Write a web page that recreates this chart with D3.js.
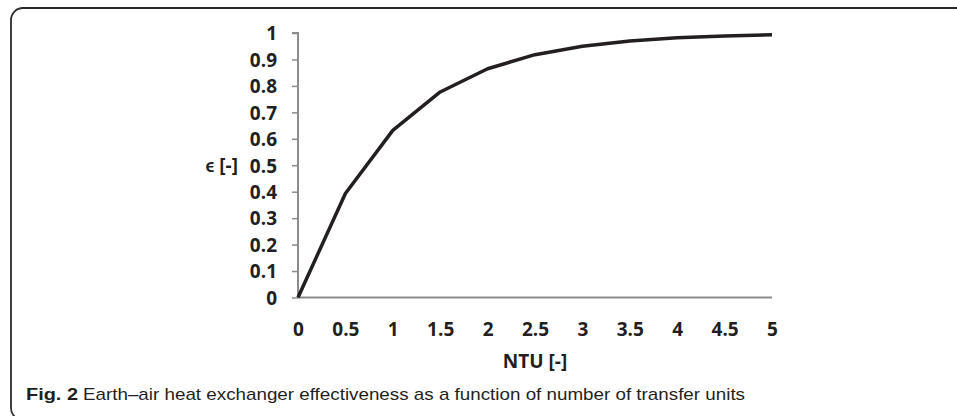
<!DOCTYPE html>
<html lang="en">
<head>
  <meta charset="UTF-8">
  <title>Earth-air heat exchanger effectiveness</title>
  <script src="https://d3js.org/d3.v7.min.js"></script>
  <style>
    body { margin: 0; background: #fff; }
    .tick-label { font-family: "Open Sans", Lato, sans-serif; font-weight: 700; font-size: 19px; fill: #231f20; }
    .caption { font-family: "Liberation Sans Narrow", "Liberation Sans", sans-serif; font-size: 17px; fill: #231f20; }
  </style>
</head>
<body>
  <div id="chart"></div>
  <script>
    // values
    const ntu = [0, 0.5, 1, 1.5, 2, 2.5, 3, 3.5, 4, 4.5, 5];
    const effectiveness = [0, 0.393, 0.632, 0.777, 0.865, 0.918, 0.950, 0.970, 0.982, 0.989, 0.993];
    const yTicks = [0, 0.1, 0.2, 0.3, 0.4, 0.5, 0.6, 0.7, 0.8, 0.9, 1];

    const width = 957;
    const height = 416;

    const svg = d3.select("#chart")
      .append("svg")
      .attr("width", width)
      .attr("height", height);

    // figure frame (runs off the right and bottom)
    svg.append("rect")
      .attr("x", 11)
      .attr("y", 8)
      .attr("width", 1000)
      .attr("height", 412)
      .attr("rx", 12)
      .attr("fill", "none")
      .attr("stroke", "#2b2b2b")
      .attr("stroke-width", 1.8);

    const x = d3.scaleLinear().domain([0, 5]).range([298, 772]);
    const y = d3.scaleLinear().domain([0, 1]).range([297.5, 33]);

    // y axis
    const yAxis = svg.append("g")
      .attr("transform", "translate(298,0)")
      .call(d3.axisLeft(y).tickValues(yTicks).tickSize(6).tickPadding(15)
        .tickFormat(d => String(+d.toFixed(1))));
    yAxis.attr("font-size", null).attr("font-family", null);
    yAxis.select(".domain").attr("stroke", "#8c8c8c").attr("stroke-width", 2)
      .attr("d", `M-6,${y(1)}H0V${y(0)}`);
    yAxis.selectAll(".tick line").attr("stroke", "#8c8c8c").attr("stroke-width", 1.5);
    yAxis.selectAll(".tick text").attr("class", "tick-label").attr("dy", "0.36em");

    // x axis
    const xAxis = svg.append("g")
      .attr("transform", `translate(0,${y(0)})`)
      .call(d3.axisBottom(x).tickValues(ntu).tickSize(0).tickPadding(25)
        .tickFormat(d => String(d)));
    xAxis.attr("font-size", null).attr("font-family", null);
    xAxis.select(".domain").attr("stroke", "#8c8c8c").attr("stroke-width", 2)
      .attr("d", `M${x(0)},0H${x(5)}`);
    xAxis.selectAll(".tick text").attr("class", "tick-label");

    // axis titles
    svg.append("text")
      .attr("class", "tick-label")
      .attr("x", 238)
      .attr("y", y(0.5))
      .attr("dy", "0.36em")
      .attr("text-anchor", "end")
      .text("ϵ [-]");

    svg.append("text")
      .attr("class", "tick-label")
      .attr("x", 535)
      .attr("y", 368)
      .attr("text-anchor", "middle")
      .text("NTU [-]");

    // curve
    svg.append("path")
      .datum(ntu.map((d, i) => [d, effectiveness[i]]))
      .attr("fill", "none")
      .attr("stroke", "#231f20")
      .attr("stroke-width", 3.5)
      .attr("stroke-linejoin", "round")
      .attr("d", d3.line().x(d => x(d[0])).y(d => y(d[1])));

    // caption
    svg.append("text")
      .attr("class", "caption")
      .attr("x", 26)
      .attr("y", 400)
      .attr("font-weight", 700)
      .attr("textLength", 52)
      .attr("lengthAdjust", "spacingAndGlyphs")
      .text("Fig. 2");
    svg.append("text")
      .attr("class", "caption")
      .attr("x", 83)
      .attr("y", 400)
      .attr("textLength", 662)
      .attr("lengthAdjust", "spacingAndGlyphs")
      .text("Earth–air heat exchanger effectiveness as a function of number of transfer units");
  </script>
</body>
</html>
